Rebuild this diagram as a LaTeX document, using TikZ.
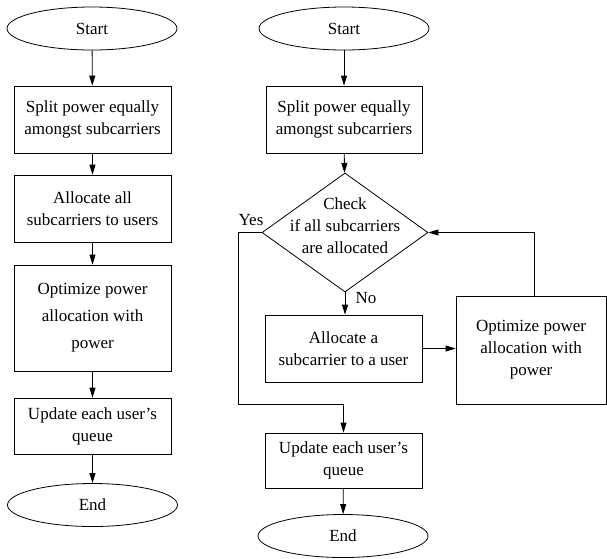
\documentclass[tikz,border=0pt]{standalone}
\usepackage{fontspec}
\setmainfont{Liberation Serif}
\usetikzlibrary{shapes.geometric,arrows.meta}
\begin{document}
\begin{tikzpicture}[x=1pt,y=-1pt,
  every node/.style={font=\fontsize{17}{22}\selectfont},
  line/.style={line width=0.8pt},
  flow/.style={line, -{Triangle[length=10pt,width=6pt]}},
  term/.style={draw, line width=0.8pt, ellipse, inner sep=0pt, minimum width=170pt, minimum height=43pt},
  procbox/.style={draw, line width=0.8pt, rectangle, inner sep=0pt, align=center},
  decision/.style={draw, line width=0.8pt, diamond, inner sep=0pt, minimum width=166pt, minimum height=119pt},
  lbl/.style={inner sep=0pt}
]
\useasboundingbox (0,0) rectangle (607,558);

% ---- left flowchart: allocate everything at once ----
\node[term] (ls) at (92,28.5) {Start};
\node[procbox, minimum width=157pt, minimum height=67pt] (lsplit) at (92.5,119.5)
  {Split power equally\\amongst subcarriers};
\node[procbox, minimum width=157pt, minimum height=67pt] (lalloc) at (92.5,208.5)
  {Allocate all\\subcarriers to users};
\node[procbox, minimum width=157pt, minimum height=106pt] (lopt) at (92.5,318)
  {Optimize power\\[5pt]allocation with\\[5pt]power};
\node[procbox, minimum width=157pt, minimum height=56pt] (lupd) at (92.5,426)
  {\fontsize{17}{18}\selectfont Update each user's\\queue};
\node[term] (le) at (92.5,505) {End};

\draw[flow] (ls) -- (lsplit);
\draw[flow] (lsplit) -- (lalloc);
\draw[flow] (lalloc) -- (lopt);
\draw[flow] (lopt) -- (lupd);
\draw[flow] (lupd) -- (le);

% ---- right flowchart: one subcarrier at a time ----
\node[term] (rs) at (344,28.5) {Start};
\node[procbox, minimum width=156pt, minimum height=67pt] (rsplit) at (344,119.5)
  {Split power equally\\amongst subcarriers};
\node[decision] (chk) at (345,232.5) {};
\node[lbl, align=center] (chktext) at (345,226) {Check\\if all subcarriers\\are allocated};
\node[procbox, minimum width=157pt, minimum height=67pt] (ralloc) at (343.5,348.5)
  {Allocate a\\subcarrier to a user};
\node[procbox, minimum width=150pt, minimum height=108pt] (ropt) at (531,350)
  {Optimize power\\allocation with\\power};
\node[procbox, minimum width=157pt, minimum height=55pt] (rupd) at (343.5,460.5)
  {\fontsize{17}{18}\selectfont Update each user's\\queue};
\node[term] (re) at (343,536) {End};

\node[lbl] (yes) at (251,220) {Yes};
\node[lbl] (no) at (366,298) {No};
\coordinate (bypass) at (238,404);
\coordinate (feedback) at ([xshift=3pt]ropt.north);

\draw[flow] (rs) -- (rsplit);
\draw[flow] (rsplit) -- (chk);
\draw[flow] (chk.south) -- (ralloc.north -| chk.south);
\draw[flow] (ralloc.east) -- (ralloc.east -| ropt.west);
\draw[flow] (feedback) |- (chk.east);
\draw[line] (chk.west) -| (bypass);
\draw[flow] (bypass) -| (rupd.north);
\draw[flow] (rupd) -- (re);
\end{tikzpicture}
\end{document}
